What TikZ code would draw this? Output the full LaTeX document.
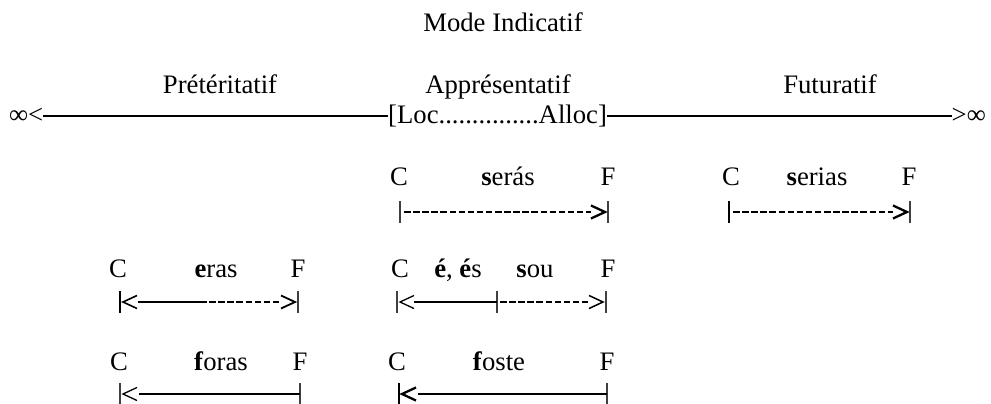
\documentclass[tikz,border=0pt]{standalone}
\usepackage{fontspec}
\setmainfont{Liberation Serif}
\usetikzlibrary{calc}
\newcommand\chevR[2][]{\draw[#1] ($(#2)+(-14,-6.5)$) -- (#2) -- ($(#2)+(-14,6.5)$);}
\newcommand\chevL[2][]{\draw[#1] ($(#2)+(14,-6.5)$) -- (#2) -- ($(#2)+(14,6.5)$);}
\newcommand\vbar[2][]{\draw[barline,#1] ($(#2)+(0,-11)$) -- ($(#2)+(0,11)$);}
\begin{document}
\begin{tikzpicture}[x=1pt,y=-1pt,
  txt/.style={inner sep=0pt, anchor=base, font=\fontsize{26.7}{32}\selectfont},
  axis/.style={line width=1.4pt},
  barline/.style={line width=1.4pt, black!75},
  boldbar/.style={line width=2.2pt, black},
  solidl/.style={line width=1.4pt},
  bolddash/.style={line width=2.7pt, dash pattern=on 6.5pt off 2.6pt},
  thinhead/.style={line width=1.3pt, line join=miter},
  boldhead/.style={line width=2.3pt, line join=miter}]
\useasboundingbox (0,0) rectangle (991,404);
% titles
\node[txt] (mode) at (503,32) {Mode Indicatif};
\node[txt] (pret) at (220,93) {Prétéritatif};
\node[txt] (appr) at (498,93) {Apprésentatif};
\node[txt] (futu) at (830,93) {Futuratif};
% main axis
\node[txt,anchor=base west] (infL) at (9,123) {∞<};
\node[txt,anchor=base west] (loc) at (388,123) {[Loc...............Alloc]};
\node[txt,anchor=base east] (infR) at (986,123) {>∞};
\draw[axis] ($(infL.base east)+(0,-7)$) -- ($(loc.base west)+(0,-7)$);
\draw[axis] ($(loc.base east)+(0,-7)$) -- ($(infR.base west)+(0,-7)$);
% row A : seras
\node[txt] (cA) at (399,185) {C};
\node[txt] (wA) at (508,185) {\textbf{s}erás};
\node[txt] (fA) at (608,185) {F};
\coordinate (aL) at (400,212); \coordinate (aT) at (605,212); \coordinate (aR) at (608,212);
\vbar{aL} \vbar{aR}
\draw[bolddash] ($(aL)+(4,0)$) -- ($(aT)+(-14,0)$);
\chevR[boldhead]{aT}
% row B : serias
\node[txt] (cB) at (731,185) {C};
\node[txt] (wB) at (817,185) {\textbf{s}erias};
\node[txt] (fB) at (909,185) {F};
\coordinate (bL) at (729,212); \coordinate (bT) at (907,212); \coordinate (bR) at (910,212);
\vbar[boldbar]{bL} \vbar{bR}
\draw[bolddash] ($(bL)+(4,0)$) -- ($(bT)+(-14,0)$);
\chevR[boldhead]{bT}
% row C : eras
\node[txt] (cC) at (118,277) {C};
\node[txt] (wC) at (216,277) {\textbf{e}ras};
\node[txt] (fC) at (298,277) {F};
\coordinate (cL) at (120,302); \coordinate (cT1) at (123,302); \coordinate (cM) at (200,302);
\coordinate (cT2) at (295,302); \coordinate (cR) at (298,302);
\vbar[boldbar]{cL} \vbar{cR}
\chevL[thinhead,line width=1.6pt]{cT1}
\draw[solidl,line width=1.7pt] ($(cT1)+(15,0)$) -- (cM);
\draw[bolddash,line width=2.3pt] (cM) -- ($(cT2)+(-14,0)$);
\chevR[boldhead,line width=1.8pt]{cT2}
% row D : e, es / sou
\node[txt] (cD) at (400,277) {C};
\node[txt] (wD1) at (458,277) {\textbf{é}, \textbf{é}s};
\node[txt] (wD2) at (535,277) {\textbf{s}ou};
\node[txt] (fD) at (608,277) {F};
\coordinate (dL) at (397,302); \coordinate (dT1) at (400,302); \coordinate (dM) at (497,302);
\coordinate (dT2) at (603,302); \coordinate (dR) at (606,302);
\vbar{dL} \vbar{dM} \vbar{dR}
\chevL[thinhead]{dT1}
\draw[solidl] ($(dT1)+(14,0)$) -- (dM);
\draw[bolddash,line width=2.3pt] ($(dM)+(3,0)$) -- ($(dT2)+(-14,0)$);
\chevR[thinhead,line width=1.5pt]{dT2}
% row E : foras
\node[txt] (cE) at (119,370) {C};
\node[txt] (wE) at (221,370) {\textbf{f}oras};
\node[txt] (fE) at (300,370) {F};
\coordinate (eL) at (120,394); \coordinate (eT) at (123,394); \coordinate (eR) at (300,394);
\vbar{eL} \vbar{eR}
\chevL[thinhead]{eT}
\draw[solidl] ($(eT)+(16,0)$) -- (eR);
% row F : foste
\node[txt] (cF) at (397,370) {C};
\node[txt] (wF) at (499,370) {\textbf{f}oste};
\node[txt] (fF) at (607,370) {F};
\coordinate (gL) at (399,394); \coordinate (gT) at (402,394); \coordinate (gR) at (607,394);
\vbar[boldbar]{gL} \vbar{gR}
\chevL[boldhead]{gT}
\draw[solidl] ($(gT)+(16,0)$) -- (gR);
\end{tikzpicture}
\end{document}
